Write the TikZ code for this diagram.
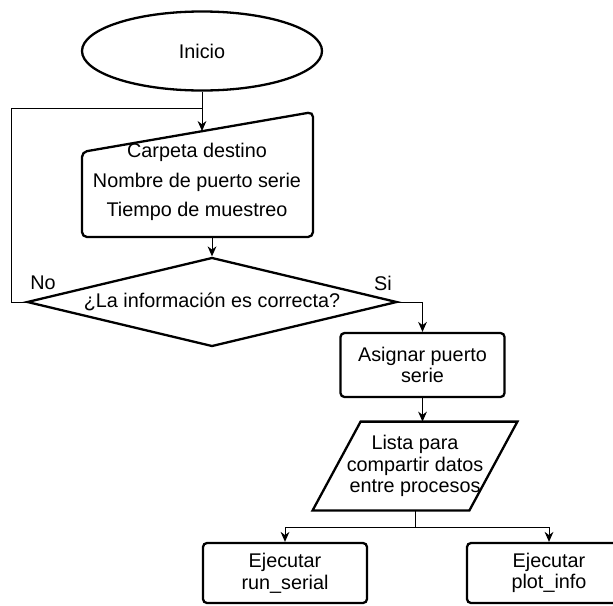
\documentclass[tikz,border=0pt]{standalone}
\usepackage{fontspec}
\setmainfont{Liberation Sans}
\usetikzlibrary{shapes.geometric,arrows.meta}
\begin{document}
\begin{tikzpicture}[
   x=0.5pt,y=-0.5pt,
   every node/.style={font=\fontsize{9.9}{10.8}\selectfont,align=center,inner sep=0pt},
   borde/.style={draw=black,line width=1.15pt},
   caja/.style={borde,rounded corners=2pt,minimum width=82pt},
   linea/.style={line width=0.5pt},
   flecha/.style={linea,-{Stealth[length=5pt,width=4.4pt]}}
 ]
  \clip (0,0) rectangle (613,605);
  \node[borde,ellipse,minimum width=120pt,minimum height=39.5pt] (inicio) at (202,51) {Inicio};

  \draw[borde,rounded corners=2.5pt] (82,152) -- (313,112) -- (313,237) -- (82,237) -- cycle;
  \node[font=\fontsize{9.9}{14.75}\selectfont] (datos) at (197,182)
    {Carpeta destino\\Nombre de puerto serie\\Tiempo de muestreo};
  \coordinate (union) at (202,108);
  \coordinate (datos-in) at (202,131);
  \coordinate (datos-out) at (212,237);

  \node[borde,diamond,aspect=4.16,minimum width=185pt,minimum height=44.5pt] (pregunta) at (212,302)
    {\raisebox{-1.5pt}{¿La información es correcta?}};
  \node (no) at (43,283) {No};
  \node (si) at (383,283) {Si};

  \node[caja,minimum height=32pt] (asignar) at (422.5,365) {Asignar puerto\\serie};
  \node[minimum width=102pt,minimum height=44pt] (lista) at (415,466)
    {Lista para\\compartir datos\\entre procesos};
  \draw[borde] ([xshift=24pt]lista.north west) -- (lista.north east)
    -- ([xshift=-24pt]lista.south east) -- (lista.south west) -- cycle;
  \coordinate (reparto) at ([yshift=-8.5pt]lista.south);

  \draw[flecha] (inicio.south) -- (datos-in);
  \draw[linea] (pregunta.west) -- ++(-14,0) |- (union);
  \draw[flecha] (datos-out) -- (pregunta.north);
  \draw[flecha] (pregunta.east) -| (asignar.north);
  \draw[flecha] (asignar.south) -- (asignar.south |- lista.north);
  \draw[linea] (lista.south) -- (reparto);

  \foreach \x/\n/\t in {285/run/run\_serial,549/plot/plot\_info} {
    \node[caja,minimum height=30pt] (\n) at (\x,573) {Ejecutar\\\t};
    \draw[flecha] (reparto) -| (\n.north);
  }
\end{tikzpicture}
\end{document}
